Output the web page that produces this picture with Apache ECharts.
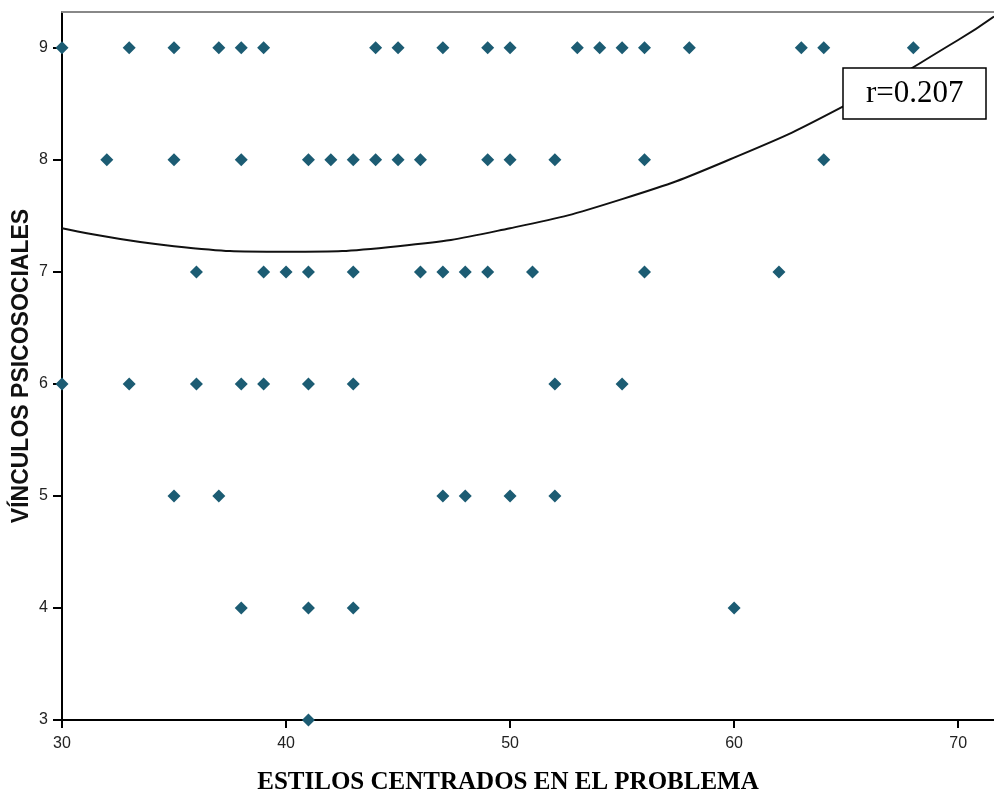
<!DOCTYPE html>
<html>
<head>
<meta charset="utf-8">
<title>Vínculos psicosociales vs estilos centrados en el problema</title>
<script src="https://cdn.jsdelivr.net/npm/echarts@6/dist/echarts.min.js"></script>
<style>
  html, body { margin: 0; padding: 0; background: #fff; }
  #chart { width: 994px; height: 796px; }
</style>
</head>
<body>
<div id="chart"></div>
<script>
// x values (ESTILOS CENTRADOS EN EL PROBLEMA) for each y level
var row9 = [30, 33, 35, 37, 38, 39, 44, 45, 47, 49, 50, 53, 54, 55, 56, 58, 63, 64, 68];
var row8 = [32, 35, 38, 41, 42, 43, 44, 45, 46, 49, 50, 52, 56, 64];
var row7 = [36, 39, 40, 41, 43, 46, 47, 48, 49, 51, 56, 62];
var row6 = [30, 33, 36, 38, 39, 41, 43, 52, 55];
var row5 = [35, 37, 47, 48, 50, 52];
var row4 = [38, 41, 43, 60];
var row3 = [41];

// fit curve
var fitX = [30, 35, 40, 45, 50, 55, 60, 65, 70, 71.6];
var fitY = [7.39, 7.23, 7.18, 7.23, 7.39, 7.65, 8.02, 8.49, 9.07, 9.28];

var xTicks = [30, 40, 50, 60, 70];
var yTicks = [3, 4, 5, 6, 7, 8, 9];
var rLabel = 'r=0.207';

var rows = [[9, row9], [8, row8], [7, row7], [6, row6], [5, row5], [4, row4], [3, row3]];
var points = [];
rows.forEach(function (r) {
    r[1].forEach(function (x) { points.push([x, r[0]]); });
});
var fitLine = fitX.map(function (x, i) { return [x, fitY[i]]; });

var myChart = echarts.init(document.getElementById('chart'));
myChart.setOption({
    animation: false,
    title: {
        text: rLabel,
        left: 843,
        top: 68,
        z: 10,
        padding: [10, 23, 10, 23],
        borderColor: '#000',
        borderWidth: 1.5,
        backgroundColor: '#fff',
        textStyle: {
            fontFamily: 'Liberation Serif',
            fontSize: 31,
            fontWeight: 'normal',
            color: '#000'
        }
    },
    grid: { left: 62, right: 0, top: 12, bottom: 76, containLabel: false, outerBoundsMode: 'none' },
    xAxis: [
        {
            type: 'value',
            min: 30,
            max: 71.6,
            interval: 10,
            name: 'ESTILOS CENTRADOS EN EL PROBLEMA',
            nameLocation: 'middle',
            nameGap: 50,
            nameMoveOverlap: false,
            nameTextStyle: {
                fontFamily: 'Liberation Serif',
                fontWeight: 'bold',
                fontSize: 25,
                color: '#000',
                padding: [0, 40, 0, 0]
            },
            splitLine: { show: false },
            axisLine: { lineStyle: { color: '#000', width: 2 } },
            axisTick: { customValues: xTicks, length: 8, lineStyle: { color: '#000', width: 2 } },
            axisLabel: {
                customValues: xTicks,
                margin: 16,
                fontFamily: 'Liberation Sans',
                fontSize: 16,
                color: '#222'
            }
        },
        {
            type: 'value',
            position: 'top',
            min: 30,
            max: 71.6,
            splitLine: { show: false },
            axisTick: { show: false },
            axisLabel: { show: false },
            axisLine: { lineStyle: { color: '#888', width: 2 } }
        }
    ],
    yAxis: {
        type: 'value',
        min: 3,
        max: 9.32,
        interval: 1,
        name: 'VÍNCULOS PSICOSOCIALES',
        nameLocation: 'middle',
        nameGap: 29,
        nameMoveOverlap: false,
        nameTextStyle: {
            fontFamily: 'Liberation Sans',
            fontWeight: 'bold',
            fontSize: 23,
            color: '#111'
        },
        splitLine: { show: false },
        axisLine: { lineStyle: { color: '#000', width: 2 } },
        axisTick: { customValues: yTicks, length: 9, lineStyle: { color: '#000', width: 2 } },
        axisLabel: {
            customValues: yTicks,
            margin: 14,
            fontFamily: 'Liberation Sans',
            fontSize: 16,
            color: '#222'
        }
    },
    series: [
        {
            name: 'fit',
            type: 'line',
            data: fitLine,
            smooth: true,
            showSymbol: false,
            symbol: 'none',
            lineStyle: { color: '#111', width: 2 },
            z: 1
        },
        {
            name: 'VÍNCULOS PSICOSOCIALES',
            type: 'scatter',
            data: points,
            symbol: 'diamond',
            symbolSize: 13,
            clip: true,
            itemStyle: { color: '#1c5c73', opacity: 1 },
            z: 3
        }
    ]
});
</script>
</body>
</html>
